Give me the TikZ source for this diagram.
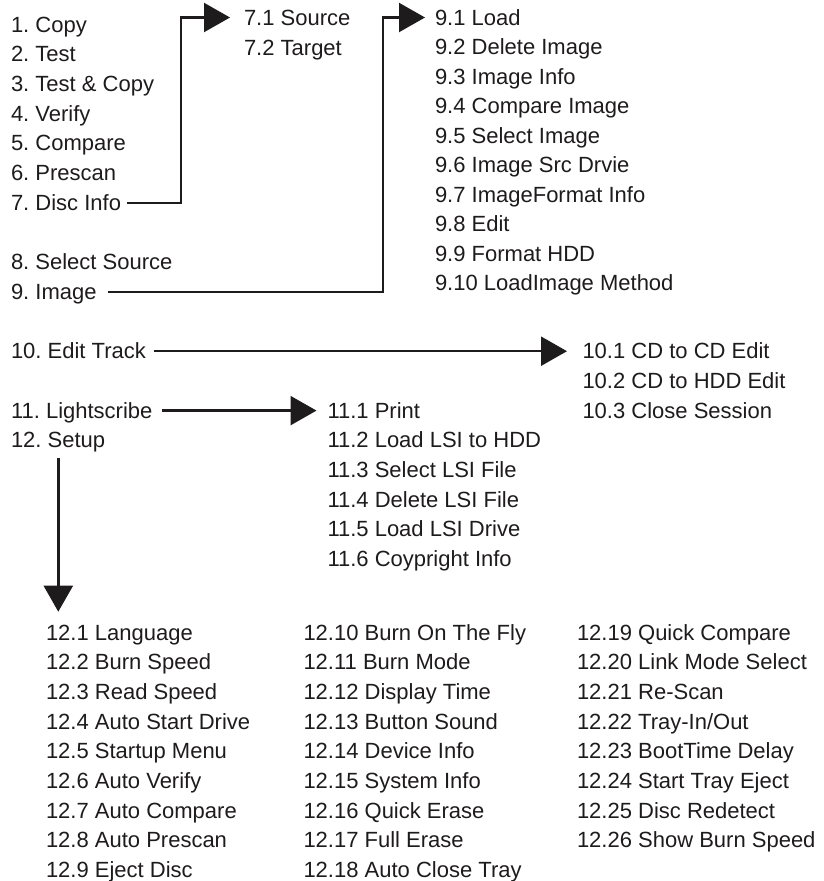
\documentclass[tikz,border=0pt]{standalone}
\usepackage{fontspec}
\setmainfont{Liberation Sans}
\usetikzlibrary{arrows.meta,calc}
\definecolor{ink}{RGB}{30,27,28}
\begin{document}
\frenchspacing
\begin{tikzpicture}[x=1pt,y=-1pt,
  item/.style={anchor=base west, inner sep=0pt, outer sep=0pt, text height=15pt, text depth=0pt,
    font=\fontsize{22pt}{26pt}\selectfont, text=ink},
  conn/.style={draw=ink, line width=2.4pt},
  arr/.style={conn, -{Triangle[length=26pt,width=29pt]}}]
\useasboundingbox (0,0) rectangle (823,881);
% main menu
\node[item] (m1) at (11,32) {1. Copy};
\node[item] (m2) at (11,61.7) {2. Test};
\node[item] (m3) at (11,91.4) {3. Test \& Copy};
\node[item] (m4) at (11,121.1) {4. Verify};
\node[item] (m5) at (11,150.8) {5. Compare};
\node[item] (m6) at (11,180.5) {6. Prescan};
\node[item] (m7) at (11,210.2) {7. Disc Info};
\node[item] (m8) at (11,269.6) {8. Select Source};
\node[item] (m9) at (11,299.3) {9. Image};
\node[item] (m10) at (11,358.7) {10. Edit Track};
\node[item] (m11) at (11,418.1) {11. Lightscribe};
\node[item] (m12) at (11,447.8) {12. Setup};
% 7.x
\node[item] (s1) at (244,25) {7.1 Source};
\node[item] (s2) at (244,55) {7.2 Target};
% 9.x
\node[item] (i1) at (435,25) {9.1 Load};
\node[item] (i2) at (435,54.5) {9.2 Delete Image};
\node[item] (i3) at (435,84) {9.3 Image Info};
\node[item] (i4) at (435,113.5) {9.4 Compare Image};
\node[item] (i5) at (435,143) {9.5 Select Image};
\node[item] (i6) at (435,172.5) {9.6 Image Src Drvie};
\node[item] (i7) at (435,202) {9.7 ImageFormat Info};
\node[item] (i8) at (435,231.5) {9.8 Edit};
\node[item] (i9) at (435,261) {9.9 Format HDD};
\node[item] (i10) at (435,290.5) {9.10 LoadImage Method};
% 10.x
\node[item] (e1) at (582.5,358.7) {10.1 CD to CD Edit};
\node[item] (e2) at (582.5,388.4) {10.2 CD to HDD Edit};
\node[item] (e3) at (582.5,418.1) {10.3 Close Session};
% 11.x
\node[item] (l1) at (327.5,418.1) {11.1 Print};
\node[item] (l2) at (327.5,447.8) {11.2 Load LSI to HDD};
\node[item] (l3) at (327.5,477.5) {11.3 Select LSI File};
\node[item] (l4) at (327.5,507.2) {11.4 Delete LSI File};
\node[item] (l5) at (327.5,536.9) {11.5 Load LSI Drive};
\node[item] (l6) at (327.5,566.6) {11.6 Coypright Info};
% 12.x column A
\node[item] (t1) at (46,640) {12.1 Language};
\node[item] (t2) at (46,669.7) {12.2 Burn Speed};
\node[item] (t3) at (46,699.4) {12.3 Read Speed};
\node[item] (t4) at (46,729.1) {12.4 Auto Start Drive};
\node[item] (t5) at (46,758.8) {12.5 Startup Menu};
\node[item] (t6) at (46,788.5) {12.6 Auto Verify};
\node[item] (t7) at (46,818.2) {12.7 Auto Compare};
\node[item] (t8) at (46,847.9) {12.8 Auto Prescan};
\node[item] (t9) at (46,877.6) {12.9 Eject Disc};
% column B
\node[item] (t10) at (303.5,640) {12.10 Burn On The Fly};
\node[item] (t11) at (303.5,669.7) {12.11 Burn Mode};
\node[item] (t12) at (303.5,699.4) {12.12 Display Time};
\node[item] (t13) at (303.5,729.1) {12.13 Button Sound};
\node[item] (t14) at (303.5,758.8) {12.14 Device Info};
\node[item] (t15) at (303.5,788.5) {12.15 System Info};
\node[item] (t16) at (303.5,818.2) {12.16 Quick Erase};
\node[item] (t17) at (303.5,847.9) {12.17 Full Erase};
\node[item] (t18) at (303.5,877.6) {12.18 Auto Close Tray};
% column C
\node[item] (t19) at (577,640) {12.19 Quick Compare};
\node[item] (t20) at (577,669.7) {12.20 Link Mode Select};
\node[item] (t21) at (577,699.4) {12.21 Re-Scan};
\node[item] (t22) at (577,729.1) {12.22 Tray-In/Out};
\node[item] (t23) at (577,758.8) {12.23 BootTime Delay};
\node[item] (t24) at (577,788.5) {12.24 Start Tray Eject};
\node[item] (t25) at (577,818.2) {12.25 Disc Redetect};
\node[item] (t26) at (577,847.9) {12.26 Show Burn Speed};
% connectors
\draw[arr] ([xshift=6pt]m7.east) -| ($(s1.west)+(-63,0)$) -- ([xshift=-14pt]s1.west);
\draw[arr] ([xshift=11pt]m9.east) -| ($(i1.west)+(-52,0)$) -- ([xshift=-10pt]i1.west);
\draw[arr] ([xshift=8.5pt]m10.east) -- ([xshift=-15.5pt]e1.west);
\draw[arr] ([xshift=9.3pt]m11.east) -- ([xshift=-11pt]l1.west);
\draw[arr] ($(m12.base west)+(47.3,10)$) -- ($(t1.base west)+(12.3,-28.3)$);
\end{tikzpicture}
\end{document}
